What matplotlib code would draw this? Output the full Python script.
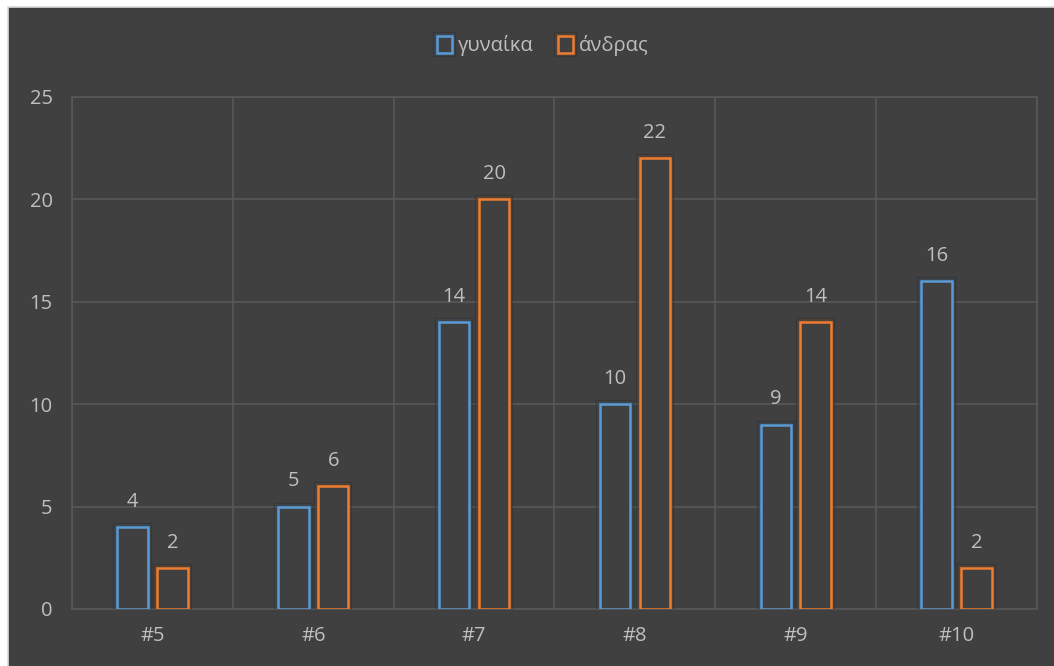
import numpy as np
import matplotlib.pyplot as plt
import matplotlib.patheffects as pe
from matplotlib.patches import Rectangle

categories = ['#5', '#6', '#7', '#8', '#9', '#10']
women = [4, 5, 14, 10, 9, 16]
men = [2, 6, 20, 22, 14, 2]
series_names = ['γυναίκα', 'άνδρας']

bg = '#404040'
grid_col = '#595959'
text_col = '#bfbfbf'
blue = '#5b9bd5'
orange = '#ed7d31'

plt.rcParams['font.family'] = ['Open Sans', 'DejaVu Sans']

fig = plt.figure(figsize=(10.54, 6.66), dpi=100)
fig.patch.set_facecolor('white')
# dark chart area with thin light border on the left/top edge
fig.patches.append(Rectangle((8 / 1054, -0.01), 1, 1 - 7 / 666 + 0.01,
                             transform=fig.transFigure, facecolor=bg,
                             edgecolor='#d9d9d9', linewidth=1.2, zorder=-5))

ax = fig.add_axes([72 / 1054, 57 / 666, 965 / 1054, 512 / 666])
ax.set_facecolor(bg)

x = np.arange(len(categories))
w = 0.19
off = 0.124

glow = lambda c: [pe.Stroke(linewidth=6, foreground='#303030', alpha=0.5),
                  pe.Stroke(linewidth=4, foreground=c, alpha=0.15), pe.Normal()]

b1 = ax.bar(x - off, women, w, facecolor=bg, edgecolor=blue, linewidth=1.8,
            label=series_names[0], zorder=3)
b2 = ax.bar(x + off, men, w, facecolor=bg, edgecolor=orange, linewidth=1.8,
            label=series_names[1], zorder=3)
for r in b1:
    r.set_path_effects(glow(blue))
for r in b2:
    r.set_path_effects(glow(orange))

for bars, vals in ((b1, women), (b2, men)):
    for r, v in zip(bars, vals):
        ax.text(r.get_x() + r.get_width() / 2, v + 0.75, str(v), ha='center', va='bottom',
                color=text_col, fontsize=14.5)

ax.set_xlim(-0.5, len(categories) - 0.5)
ax.set_ylim(0, 25)
ax.set_yticks(range(0, 26, 5))
ax.set_xticks(x)
ax.set_xticklabels(categories)
ax.set_xticks(np.arange(-0.5, len(categories), 1), minor=True)
ax.tick_params(axis='both', which='both', length=0, colors=text_col, labelsize=14.5)
ax.tick_params(axis='y', pad=14)
ax.tick_params(axis='x', pad=12)
ax.grid(True, axis='y', color=grid_col, linewidth=1.1, zorder=0)
ax.grid(True, axis='x', which='minor', color=grid_col, linewidth=1.1, zorder=0)
ax.set_axisbelow(True)
for s in ax.spines.values():
    s.set_color(grid_col)
    s.set_linewidth(1.1)

leg = fig.legend(loc='center', bbox_to_anchor=(0.515, 1 - 46 / 666), ncol=2, frameon=False,
                 fontsize=14.5, labelcolor=text_col, handlelength=0.75, handleheight=0.85,
                 handletextpad=0.3, columnspacing=1.2)

fig.savefig('out.png', dpi=100, facecolor=fig.get_facecolor())
